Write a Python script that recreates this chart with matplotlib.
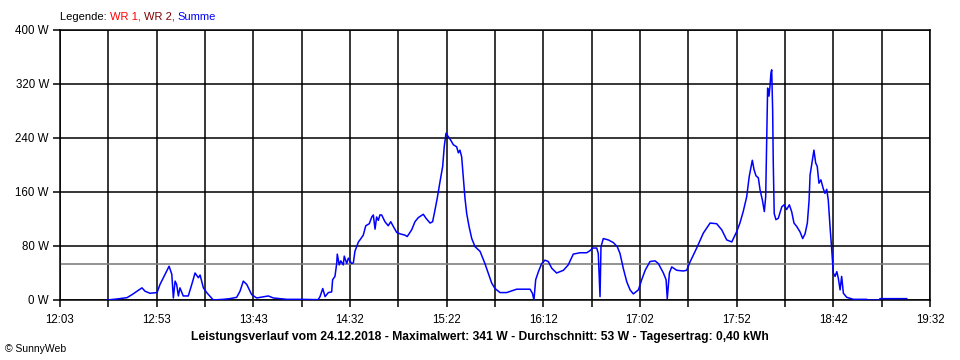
import numpy as np
from matplotlib import pyplot as plt

plt.rcParams['font.family'] = ['Liberation Sans', 'DejaVu Sans']

# minutes after 12:03 and power of "Summe" in W
minutes = [
    24.3, 29.4, 34.6, 37.2, 39.7, 42.3, 43.9, 46.4, 50.1, 51.6, 54.2, 56.3, 57.7, 58.5, 59.4,
    60.2, 61.1, 61.9, 63.6, 66.2, 68.0, 69.7, 71.4, 72.3, 74.0, 75.7, 79.1, 84.3, 87.7, 91.2,
    92.9, 94.6, 96.4, 98.9, 101.5, 107.5, 110.1, 117.0, 123.9, 133.2, 134.2, 135.6, 136.8,
    138.5, 140.2, 140.7, 141.9, 142.8, 143.1, 144.1, 144.9, 146.2, 146.7, 148.0, 148.8, 150.5,
    151.4, 152.2, 154.0, 154.8, 156.5, 157.8, 159.6, 160.9, 161.7, 162.6, 163.4, 164.3, 165.1,
    166.0, 167.7, 169.4, 170.7, 172.0, 173.8, 175.5, 178.1, 179.2, 181.5, 183.2, 184.9, 187.5,
    188.9, 191.0, 192.3, 193.5, 194.7, 196.1, 197.5, 198.3, 199.2, 200.4, 201.6, 203.0, 204.7,
    205.6, 206.4, 207.3, 208.1, 209.0, 209.9, 211.1, 212.5, 214.2, 216.8, 219.3, 221.0, 222.8,
    224.5, 227.1, 230.5, 235.7, 242.6, 243.8, 244.6, 245.5, 246.9, 248.6, 250.3, 252.0, 253.8,
    256.3, 259.8, 262.3, 264.9, 268.4, 271.8, 273.5, 274.9, 277.0, 277.8, 278.7, 279.2, 280.4,
    283.0, 285.6, 287.6, 289.0, 290.7, 292.5, 294.2, 295.9, 298.5, 300.2, 302.0, 304.5, 307.1,
    308.8, 311.4, 312.8, 313.4, 314.5, 315.7, 318.3, 321.7, 323.4, 325.1, 328.6, 332.0, 335.5,
    338.9, 341.5, 344.1, 346.7, 349.2, 350.9, 352.6, 354.4, 355.7, 357.3, 358.2, 359.2, 360.4,
    361.3, 362.5, 363.5, 364.2, 364.7, 365.2, 365.9, 366.4, 366.9, 367.3, 367.8, 368.1, 368.6,
    369.5, 370.7, 372.5, 373.7, 375.0, 376.4, 377.6, 378.8, 380.2, 381.9, 383.3, 384.5, 385.7,
    386.6, 387.1, 388.3, 389.1, 390.0, 390.8, 391.7, 392.7, 393.9, 394.8, 395.7, 396.5, 397.4,
    398.3, 399.1, 400.0, 400.9, 401.7, 402.6, 403.4, 404.3, 406.0, 409.4, 416.3, 417.0, 422.7,
    423.2, 437.0,
]
power_w = [
    0, 1.5, 3.5, 8, 13, 18, 13, 10, 11, 23, 38, 50, 38, 3, 28,
    23, 6, 18, 6, 6, 23, 40, 33, 37, 18, 11, 0, 1, 2, 4,
    13, 28, 23, 8, 3, 6, 3, 1, 1, 0.5, 5, 17, 5,
    11, 12, 30, 35, 54, 68, 52, 58, 52, 65, 54, 62, 54,
    55, 72, 86, 89, 96, 110, 113, 123, 126, 105, 123, 118, 126,
    126, 116, 110, 116, 109, 100, 98, 96, 94, 104, 116, 122, 127,
    121, 114, 116, 133, 151, 175, 198, 227, 247, 242, 237, 230, 227,
    218, 222, 212, 183, 151, 128, 109, 91, 79, 72, 54, 40, 25,
    17, 11, 11, 16, 16, 10, 0, 30, 42, 54, 59, 57, 47,
    40, 44, 52, 68, 70, 70, 73, 77, 77, 69, 5, 79, 91,
    89, 85, 79, 69, 47, 27, 15, 9, 15, 30, 44, 57, 58,
    54, 40, 30, 2, 40, 49, 44, 43, 44, 56, 77, 99, 114,
    113, 104, 89, 86, 101, 114, 131, 153, 183, 207, 193, 184, 181,
    163, 148, 131, 153, 235, 314, 302, 316, 336, 341, 281, 205, 128,
    119, 121, 138, 141, 134, 141, 131, 114, 109, 101, 91, 98, 114,
    148, 185, 207, 222, 203, 198, 173, 178, 165, 158, 164, 148, 109,
    74, 40, 35, 42, 32, 15, 35, 10, 4, 1, 1, 0, 0,
    2, 2,
]

SPAN_MIN = 449
x_tick_labels = ['12:03', '12:53', '13:43', '14:32', '15:22',
                 '16:12', '17:02', '17:52', '18:42', '19:32']
y_ticks = [0, 80, 160, 240, 320, 400]
average_w = 53
legend_parts = [('Legende: ', 'black'), ('WR 1, ', '#ff0000'),
                ('WR 2, ', '#800000'), ('Summe', '#0000ff')]
title = ('Leistungsverlauf vom 24.12.2018 - Maximalwert: 341 W - '
         'Durchschnitt: 53 W - Tagesertrag: 0,40 kWh')


def main():
    fig = plt.figure(figsize=(9.6, 3.6), dpi=100)
    ax = fig.add_axes([60 / 960, 60 / 360, 870 / 960, 270 / 360])

    ax.axhline(average_w, color='#808080', lw=1.2, zorder=2)
    ax.plot(minutes, power_w, color='#0000ff', lw=1.1, zorder=3)

    # grid every half label step, labels on every other line
    grid_x = np.linspace(0, SPAN_MIN, 2 * len(x_tick_labels) - 1)
    labels = [x_tick_labels[i // 2] if i % 2 == 0 else '' for i in range(len(grid_x))]
    ax.set_xticks(grid_x)
    ax.set_xticklabels(labels)
    ax.set_yticks(y_ticks)
    ax.set_yticklabels([f'{v} W' for v in y_ticks])
    ax.set_xlim(0, SPAN_MIN)
    ax.set_ylim(0, 400)
    ax.grid(color='black', lw=1.1, zorder=1)
    ax.set_axisbelow(True)
    ax.tick_params(direction='out', length=5, width=1.1, labelsize=8.3, color='black')
    ax.tick_params(axis='x', pad=5)
    ax.tick_params(axis='y', pad=3)
    for s in ax.spines.values():
        s.set_linewidth(1.1)

    # coloured legend line
    renderer = fig.canvas.get_renderer()
    x = 60 / 960
    for txt, col in legend_parts:
        t = fig.text(x, 1 - 16.5 / 360, txt, color=col, fontsize=8, va='center', ha='left')
        x += t.get_window_extent(renderer).width / fig.bbox.width

    fig.text(0.5, 1 - 337 / 360, title, fontsize=8.75, fontweight='bold', ha='center', va='center')
    fig.text(5 / 960, 1 - 349 / 360, '\u00a9 SunnyWeb', fontsize=7.5, ha='left', va='center')

    fig.savefig('out.png', dpi=100)
    plt.close('all')


if __name__ == '__main__':
    main()
